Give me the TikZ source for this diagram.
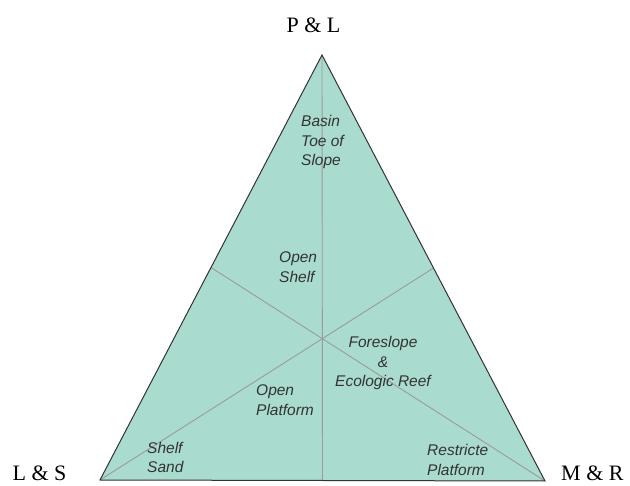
\documentclass[tikz,border=0pt]{standalone}
\usepackage{fontspec}
\setmainfont{Liberation Serif}
\newfontfamily\labelfont{Liberation Sans}
\usetikzlibrary{calc}
\definecolor{faciesfill}{RGB}{170,219,207}
\definecolor{mediangray}{RGB}{155,155,155}
\tikzset{
  facies/.style={font=\labelfont\itshape\fontsize{15.5}{19.5}\selectfont, text=black!80, inner sep=0pt},
  corner/.style={font=\fontsize{22}{24}\selectfont, inner sep=0pt}
}
\begin{document}
\begin{tikzpicture}[x=1pt,y=-1pt]
				\useasboundingbox (0,0) rectangle (630,486);
				\coordinate (PL) at (322,55);
				\coordinate (LS) at (100,480);
				\coordinate (MR) at (545,481);
				\coordinate (midLSMR) at ($(LS)!0.5!(MR)$);
				\coordinate (midPLMR) at ($(PL)!0.5!(MR)$);
				\coordinate (midPLLS) at ($(PL)!0.5!(LS)$);
				\fill [faciesfill] (PL) -- (LS) -- (MR) -- cycle;
				\draw [mediangray, line width=0.9pt] (PL) -- (midLSMR);
				\draw [mediangray, line width=0.9pt] (LS) -- (midPLMR);
				\draw [mediangray, line width=0.9pt] (MR) -- (midPLLS);
				\draw [black!80, line width=1pt, line join=miter] (PL) -- (LS) -- (MR) -- cycle;
				\node [corner, anchor=base] (plLabel) at (313.5,33) {P \& L};
				\node [corner, anchor=base] (lsLabel) at (39.5,480.5) {L \& S};
				\node [corner, anchor=base west] (mrLabel) at (561,480.5) {M \& R};
				\node [facies, anchor=west, align=left] (basin) at (301,142) {Basin\\Toe of\\Slope};
				\node [facies, anchor=west, align=left] (openShelf) at (279,267) {Open\\Shelf};
				\node [facies, align=center] (foreslope) at (383,363) {Foreslope\\\&\\Ecologic Reef};
				\node [facies, anchor=west, align=left] (openPlatform) at (256,400) {Open\\Platform};
				\node [facies, anchor=west, align=left] (shelfSand) at (147,457.5) {Shelf\\Sand};
				\node [facies, anchor=west, align=left] (restricted) at (427,460) {Restricte\\Platform};
\end{tikzpicture}
\end{document}
